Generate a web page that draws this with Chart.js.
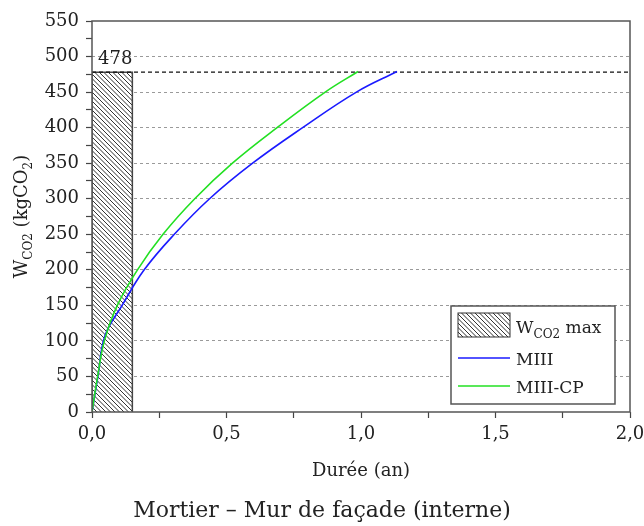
<!DOCTYPE html>
<html lang="fr">
<head>
    <meta charset="UTF-8">
    <title>Mortier – Mur de façade (interne)</title>
    <script src="https://cdn.jsdelivr.net/npm/chart.js"></script>
    <style>
        body {
            margin: 0;
            background-color: #ffffff;
        }

        canvas {
            display: block;
        }
    </style>
</head>
<body>

    <canvas id="wco2Chart" width="644" height="526"></canvas>

    <script>
        // Valeurs : durée (an) et W_CO2 (kgCO2)
        const dureeMIII = [0, 0.022, 0.048, 0.112, 0.194, 0.306, 0.437, 0.597, 0.783, 0.983, 1.134];
        const wMIII = [0, 50, 107, 150, 200, 250, 300, 350, 400, 450, 479];

        const dureeMIIICP = [0, 0.021, 0.046, 0.094, 0.169, 0.264, 0.382, 0.522, 0.688, 0.867, 0.989];
        const wMIIICP = [0, 50, 100, 150, 200, 250, 300, 350, 400, 450, 479];

        // Barre hachurée W_CO2 max
        const wCO2Max = 478;
        const dureeWMax = 0.15;

        // Axes
        const xMin = 0, xMax = 2, xStep = 0.25, xLabelStep = 0.5;
        const yMin = 0, yMax = 550, yStep = 25, yLabelStep = 50;

        const serif = "'DejaVu Serif', serif";

        // Motif hachuré (diagonales \\\), pas de 4,5 px
        function makeHatch() {
            const s = 9;
            const c = document.createElement('canvas');
            c.width = s;
            c.height = s;
            const g = c.getContext('2d');
            g.fillStyle = '#ffffff';
            g.fillRect(0, 0, s, s);
            g.strokeStyle = '#1a1a1a';
            g.lineWidth = 0.9;
            g.beginPath();
            [-9, -4.5, 0, 4.5, 9].forEach(o => {
                g.moveTo(o - 1, -1);
                g.lineTo(o + s + 1, s + 1);
            });
            g.stroke();
            return g.createPattern(c, 'repeat');
        }
        const hatch = makeHatch();

        const toPoints = (xs, ys) => xs.map((v, i) => ({ x: v, y: ys[i] }));

        // Texte avec indices (ex. W_CO2)
        function drawRuns(ctx, x, y, runs, size) {
            let cx = x;
            runs.forEach(r => {
                ctx.font = (r.sub ? Math.round(size * 0.68) : size) + 'px ' + serif;
                ctx.fillText(r.t, cx, r.sub ? y + size * 0.3 : y);
                cx += ctx.measureText(r.t).width;
            });
            return cx - x;
        }
        function measureRuns(ctx, runs, size) {
            let w = 0;
            runs.forEach(r => {
                ctx.font = (r.sub ? Math.round(size * 0.68) : size) + 'px ' + serif;
                w += ctx.measureText(r.t).width;
            });
            return w;
        }

        const textPlugin = {
            id: 'textPlugin',
            afterDraw(chart) {
                const { ctx, chartArea: a, scales: { x, y } } = chart;
                ctx.save();

                // cadre
                ctx.strokeStyle = '#555555';
                ctx.lineWidth = 1.5;
                ctx.strokeRect(a.left, a.top, a.right - a.left, a.bottom - a.top);

                ctx.fillStyle = '#222222';
                ctx.textBaseline = 'alphabetic';

                // étiquette 478
                ctx.textAlign = 'left';
                ctx.font = '18px ' + serif;
                ctx.fillText(String(wCO2Max), x.getPixelForValue(0) + 6, y.getPixelForValue(wCO2Max) - 8);

                // titre axe x
                ctx.textAlign = 'center';
                ctx.font = '18px ' + serif;
                ctx.fillText('Durée (an)', (a.left + a.right) / 2, 476);

                // légende sous la figure
                ctx.font = '22px ' + serif;
                ctx.fillText('Mortier – Mur de façade (interne)', chart.width / 2, 517);

                // titre axe y
                ctx.textAlign = 'left';
                const yTitle = [
                    { t: 'W' }, { t: 'CO2', sub: true }, { t: ' (kgCO' }, { t: '2', sub: true }, { t: ')' }
                ];
                const wy = measureRuns(ctx, yTitle, 18);
                ctx.save();
                ctx.translate(27, (a.top + a.bottom) / 2);
                ctx.rotate(-Math.PI / 2);
                drawRuns(ctx, -wy / 2, 0, yTitle, 18);
                ctx.restore();

                // légende
                const lx = 451, ly = 306, lw = 164, lh = 98;
                ctx.fillStyle = '#ffffff';
                ctx.fillRect(lx, ly, lw, lh);
                ctx.strokeStyle = '#555555';
                ctx.lineWidth = 1.5;
                ctx.strokeRect(lx, ly, lw, lh);

                ctx.fillStyle = hatch;
                ctx.fillRect(lx + 7, ly + 7, 52, 24);
                ctx.strokeStyle = '#333333';
                ctx.lineWidth = 1;
                ctx.strokeRect(lx + 7, ly + 7, 52, 24);

                ctx.lineWidth = 1.5;
                ctx.strokeStyle = '#1a1aff';
                ctx.beginPath(); ctx.moveTo(lx + 7, ly + 52); ctx.lineTo(lx + 59, ly + 52); ctx.stroke();
                ctx.strokeStyle = '#22e022';
                ctx.beginPath(); ctx.moveTo(lx + 7, ly + 80); ctx.lineTo(lx + 59, ly + 80); ctx.stroke();

                ctx.fillStyle = '#222222';
                drawRuns(ctx, lx + 65, ly + 27, [{ t: 'W' }, { t: 'CO2', sub: true }, { t: ' max' }], 17);
                ctx.font = '17px ' + serif;
                ctx.fillText('MIII', lx + 65, ly + 59);
                ctx.fillText('MIII-CP', lx + 65, ly + 87);

                ctx.restore();
            }
        };

        function initializeChart() {
            const ctx = document.getElementById('wco2Chart').getContext('2d');
            new Chart(ctx, {
                type: 'line',
                data: {
                    datasets: [
                        {
                            label: 'MIII-CP',
                            data: toPoints(dureeMIIICP, wMIIICP),
                            borderColor: '#22e022',
                            borderWidth: 1.6,
                            pointRadius: 0,
                            tension: 0.4,
                            fill: false,
                            order: 0
                        },
                        {
                            label: 'MIII',
                            data: toPoints(dureeMIII, wMIII),
                            borderColor: '#1a1aff',
                            borderWidth: 1.6,
                            pointRadius: 0,
                            tension: 0.4,
                            fill: false,
                            order: 1
                        },
                        {
                            label: 'limite',
                            data: [{ x: xMin, y: wCO2Max }, { x: xMax, y: wCO2Max }],
                            borderColor: '#111111',
                            borderWidth: 1.3,
                            borderDash: [4, 3],
                            pointRadius: 0,
                            fill: false,
                            order: 2
                        },
                        {
                            label: 'W_CO2 max',
                            data: [
                                { x: 0, y: 0 },
                                { x: 0, y: wCO2Max },
                                { x: dureeWMax, y: wCO2Max },
                                { x: dureeWMax, y: 0 }
                            ],
                            borderColor: '#444444',
                            borderWidth: 1.5,
                            backgroundColor: hatch,
                            pointRadius: 0,
                            tension: 0,
                            fill: 'origin',
                            order: 3
                        }
                    ]
                },
                options: {
                    responsive: false,
                    animation: false,
                    devicePixelRatio: 1,
                    layout: {
                        padding: { top: 21, right: 14, left: 0, bottom: 0 }
                    },
                    plugins: {
                        legend: { display: false },
                        tooltip: { enabled: false }
                    },
                    scales: {
                        x: {
                            type: 'linear',
                            min: xMin,
                            max: xMax,
                            afterFit: s => {
                                s.height = 114;
                                s.paddingLeft = 0;
                                s.paddingRight = 0;
                            },
                            border: { display: false },
                            grid: {
                                drawOnChartArea: false,
                                tickColor: '#444444',
                                tickLength: 6,
                                tickWidth: 1.2
                            },
                            ticks: {
                                stepSize: xStep,
                                autoSkip: false,
                                maxRotation: 0,
                                padding: 6,
                                color: '#222222',
                                font: { family: serif, size: 18 },
                                callback: v => (Math.abs(v / xLabelStep - Math.round(v / xLabelStep)) < 1e-9)
                                    ? v.toFixed(1).replace('.', ',') : ''
                            }
                        },
                        y: {
                            min: yMin,
                            max: yMax,
                            afterFit: s => { s.width = 92; },
                            border: { display: false, dash: [3, 3] },
                            grid: {
                                color: c => (c.tick && c.tick.value % yLabelStep === 0 && c.tick.value > yMin && c.tick.value < yMax)
                                    ? '#9a9a9a' : 'rgba(0,0,0,0)',
                                lineWidth: 1,
                                tickColor: '#444444',
                                tickLength: 6,
                                tickWidth: 1.2,
                                tickBorderDash: []
                            },
                            ticks: {
                                stepSize: yStep,
                                autoSkip: false,
                                padding: 7,
                                color: '#222222',
                                font: { family: serif, size: 18 },
                                callback: v => (v % yLabelStep === 0) ? String(v) : ''
                            }
                        }
                    }
                },
                plugins: [textPlugin]
            });
        }

        window.onload = initializeChart;
    </script>

</body>
</html>
